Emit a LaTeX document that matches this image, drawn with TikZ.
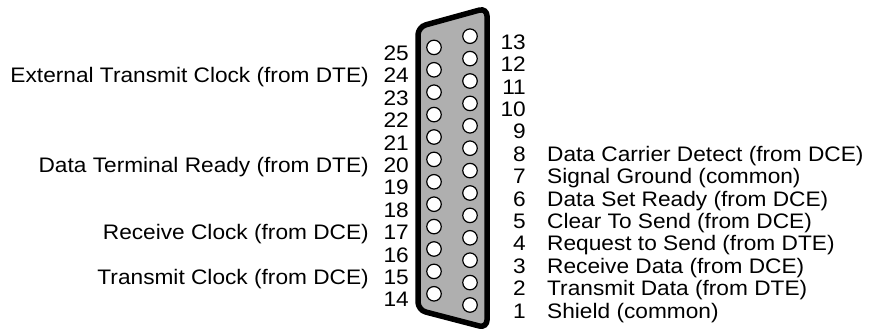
\documentclass[tikz,border=0pt]{standalone}
\usepackage{fontspec}
\setmainfont{Liberation Sans}[FakeStretch=1.08]
\usetikzlibrary{positioning,calc}
\definecolor{shellgray}{RGB}{175,175,175}

\begin{document}
\begin{tikzpicture}[x=1pt,y=-1pt,
    pinhole/.style={circle,draw=black,fill=white,line width=1.2pt,minimum size=14.5pt,inner sep=0pt},
    pinnum/.style={font=\fontsize{21}{25}\selectfont,inner sep=0pt,anchor=base east},
    signame/.style={font=\fontsize{21}{25}\selectfont,inner sep=0pt}]
            \useasboundingbox (0,0) rectangle (877,332);
            % connector shell
            \draw[line width=5.5pt,fill=shellgray,rounded corners=8pt]
                  (418,27) -- (487,8) -- (487,328) -- (418,310) -- cycle;
            % pins 1..13 (right row) and 14..25 (left row)
            \foreach \n in {1,...,13} {
              \node[pinhole] (p\n) at (470,{305-(\n-1)*22.4}) {};
              \node[pinnum] (n\n) at (526,{305-(\n-1)*22.4+13}) {\n};
            }
            \foreach \n in {14,...,25} {
              \node[pinhole] (p\n) at (434,{293.8-(\n-14)*22.4}) {};
              \node[pinnum] (n\n) at (409,{293.8-(\n-14)*22.4+13}) {\n};
            }
            % signals on the left
            \node[signame,anchor=base east] (s24) at ([xshift=-40pt]n24.base east) {External Transmit Clock (from DTE)};
            \node[signame,anchor=base east] (s20) at ([xshift=-40pt]n20.base east) {Data Terminal Ready (from DTE)};
            \node[signame,anchor=base east] (s17) at ([xshift=-40pt]n17.base east) {Receive Clock (from DCE)};
            \node[signame,anchor=base east] (s15) at ([xshift=-40pt]n15.base east) {Transmit Clock (from DCE)};
            % signals on the right
            \node[signame,anchor=base west] (s8) at ([xshift=21pt]n8.base east) {Data Carrier Detect (from DCE)};
            \node[signame,anchor=base west] (s7) at ([xshift=21pt]n7.base east) {Signal Ground (common)};
            \node[signame,anchor=base west] (s6) at ([xshift=21pt]n6.base east) {Data Set Ready (from DCE)};
            \node[signame,anchor=base west] (s5) at ([xshift=21pt]n5.base east) {Clear To Send (from DCE)};
            \node[signame,anchor=base west] (s4) at ([xshift=21pt]n4.base east) {Request to Send (from DTE)};
            \node[signame,anchor=base west] (s3) at ([xshift=21pt]n3.base east) {Receive Data (from DCE)};
            \node[signame,anchor=base west] (s2) at ([xshift=21pt]n2.base east) {Transmit Data (from DTE)};
            \node[signame,anchor=base west] (s1) at ([xshift=21pt]n1.base east) {Shield (common)};
\end{tikzpicture}
\end{document}
